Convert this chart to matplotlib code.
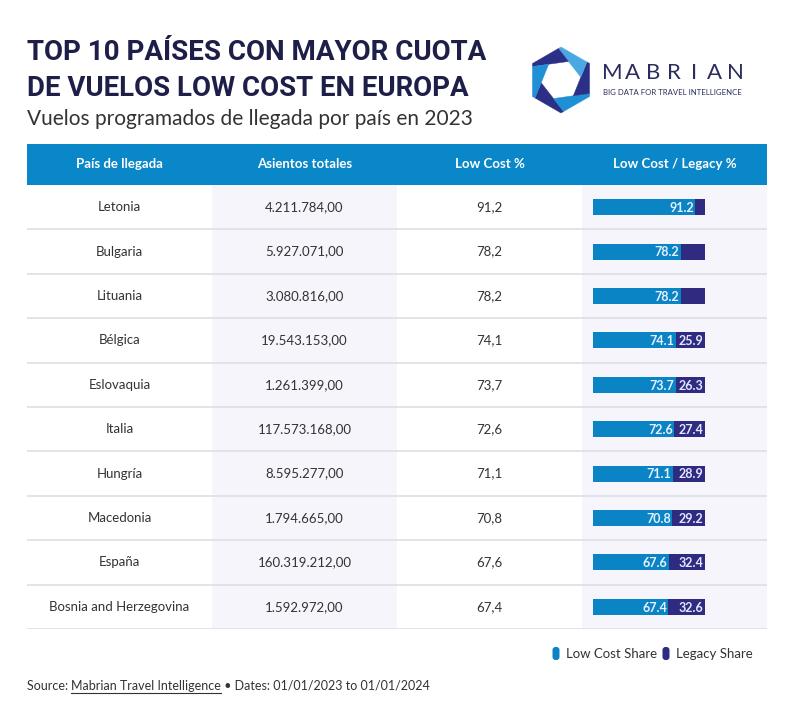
import matplotlib
matplotlib.use("Agg")
import matplotlib.pyplot as plt
from matplotlib.patches import Polygon, Rectangle, FancyBboxPatch
import numpy as np

# ---------------- data ----------------
countries = ["Letonia", "Bulgaria", "Lituania", "Bélgica", "Eslovaquia", "Italia",
             "Hungría", "Macedonia", "España", "Bosnia and Herzegovina"]
seats = [4211784.00, 5927071.00, 3080816.00, 19543153.00, 1261399.00, 117573168.00,
         8595277.00, 1794665.00, 160319212.00, 1592972.00]
low_cost = [91.2, 78.2, 78.2, 74.1, 73.7, 72.6, 71.1, 70.8, 67.6, 67.4]
legacy = [8.8, 21.8, 21.8, 25.9, 26.3, 27.4, 28.9, 29.2, 32.4, 32.6]
headers = ["País de llegada", "Asientos totales", "Low Cost %", "Low Cost / Legacy %"]
legend_labels = ["Low Cost Share", "Legacy Share"]

TITLE = ["TOP 10 PAÍSES CON MAYOR CUOTA", "DE VUELOS LOW COST EN EUROPA"]
SUBTITLE = "Vuelos programados de llegada por país en 2023"

# ---------------- style ----------------
W, H = 794, 720
HEADER_BLUE = "#0a87c8"
LC_BLUE = "#0b84c6"
LEG_NAVY = "#2e2b80"
TITLE_NAVY = "#1d1f48"
TEXT = "#333333"
SHADE = "#f5f5fb"
LINE = "#dedee6"
BODY_FONT = ["Lato", "DejaVu Sans"]
TITLE_FONT = ["Roboto", "DejaVu Sans"]


def fmt_es(v):
    s = f"{v:,.2f}"
    return s.replace(",", "X").replace(".", ",").replace("X", ".")


def es_dec(v):
    return f"{v:.1f}".replace(".", ",")


fig = plt.figure(figsize=(W / 100, H / 100), dpi=100)
fig.patch.set_facecolor("white")

# overlay axes in pixel coordinates
ov = fig.add_axes([0, 0, 1, 1])
ov.set_xlim(0, W)
ov.set_ylim(H, 0)
ov.axis("off")

renderer = fig.canvas.get_renderer()


def fit_text(x, y, s, width_px, **kw):
    size = kw.pop("fontsize", 20)
    t = ov.text(x, y, s, fontsize=size, **kw)
    bb = t.get_window_extent(renderer=renderer)
    t.set_fontsize(size * width_px / bb.width)
    return t


# Title
fit_text(27, 60, TITLE[0], 460, fontsize=24, fontweight="bold", color=TITLE_NAVY,
         family=TITLE_FONT, va="baseline", ha="left")
fit_text(27, 96, TITLE[1], 443, fontsize=24, fontweight="bold", color=TITLE_NAVY,
         family=TITLE_FONT, va="baseline", ha="left")
fit_text(27, 125, SUBTITLE, 448, fontsize=15, color=TEXT,
         family=BODY_FONT, va="baseline", ha="left")

# Logo: pinwheel hexagon
cx, cy, R = 561, 80, 33
ang = np.deg2rad(90 + 60 * np.arange(6))
outer = np.c_[cx + R * np.cos(ang), cy - R * np.sin(ang)]
r_in = 20
ang_in = ang + np.deg2rad(30 + 8)
inner = np.c_[cx + r_in * np.cos(ang_in), cy - r_in * np.sin(ang_in)]


def ray_hit(p, d):
    best = None
    for k in range(6):
        a, b = outer[k], outer[(k + 1) % 6]
        e = b - a
        M = np.array([[d[0], -e[0]], [d[1], -e[1]]])
        if abs(np.linalg.det(M)) < 1e-9:
            continue
        t, s = np.linalg.solve(M, a - p)
        if t > 1e-6 and -1e-9 <= s <= 1 + 1e-9:
            if best is None or t < best[0]:
                best = (t, k, p + t * d)
    return best


hits = []
for k in range(6):
    p = inner[(k + 1) % 6]
    d = inner[(k + 1) % 6] - inner[k]
    t, edge, pt = ray_hit(p, d)
    hits.append((edge, pt))

logo_cols = ["#2b2f86", "#1f8fd6", "#2b2f86", "#4aa9e3", "#2b2f86", "#1f8fd6"]
for k in range(6):
    e0, p0 = hits[k]
    e1, p1 = hits[(k + 1) % 6]
    verts = [inner[(k + 1) % 6], p0]
    e = e0
    while e != e1:
        e = (e + 1) % 6
        verts.append(outer[e])
    verts.append(p1)
    ov.add_patch(Polygon(verts, closed=True, facecolor=logo_cols[k], edgecolor=logo_cols[k], lw=0.3))

letters = "MABRIAN"
lx0, lx1 = 612, 735
for k, ch in enumerate(letters):
    ov.text(lx0 + (lx1 - lx0) * k / (len(letters) - 1), 73, ch, fontsize=16,
            family=BODY_FONT, fontweight="normal", color="#2a2d5e", ha="center", va="center")
fit_text(603, 95, "BIG DATA FOR TRAVEL INTELLIGENCE", 139, fontsize=5.5,
         family=BODY_FONT, color="#2a2d5e", ha="left", va="baseline")

# Header band
TX0, TX1 = 27, 767
HY0, HY1 = 144, 185
ov.add_patch(Rectangle((TX0, HY0), TX1 - TX0, HY1 - HY0, facecolor=HEADER_BLUE, edgecolor="none"))
col_edges = np.linspace(TX0, TX1, 5)
for k, h in enumerate(headers):
    ov.text((col_edges[k] + col_edges[k + 1]) / 2, (HY0 + HY1) / 2, h, color="white",
            fontsize=9.5, fontweight="bold", family=BODY_FONT, ha="center", va="center")

# Table axes (rows)
RY0, RY1 = 185, 629
nrows = len(countries)
tab = fig.add_axes([TX0 / W, 1 - RY1 / H, (TX1 - TX0) / W, (RY1 - RY0) / H])
tab.set_xlim(0, 4)
tab.set_ylim(nrows, 0)
tab.axis("off")
for c in (1, 3):
    tab.axvspan(c, c + 1, facecolor=SHADE, edgecolor="none", zorder=0)
for i in range(1, nrows + 1):
    tab.axhline(i, color=LINE, lw=1.2, zorder=1)

for i in range(nrows):
    yc = i + 0.5
    tab.text(0.5, yc, countries[i], ha="center", va="center", fontsize=9.5, color=TEXT, family=BODY_FONT)
    tab.text(1.5, yc, fmt_es(seats[i]), ha="center", va="center", fontsize=9.5, color=TEXT, family=BODY_FONT)
    tab.text(2.5, yc, es_dec(low_cost[i]), ha="center", va="center", fontsize=9.5, color=TEXT, family=BODY_FONT)

# Bars axes
BX0, BX1 = 593, 705
bar = fig.add_axes([BX0 / W, 1 - RY1 / H, (BX1 - BX0) / W, (RY1 - RY0) / H])
bar.set_xlim(0, 100)
bar.set_ylim(nrows, 0)
bar.axis("off")
bar.patch.set_alpha(0)
ys = np.arange(nrows) + 0.5
bar_h = 16 / 44.4
bar.barh(ys, low_cost, height=bar_h, color=LC_BLUE, edgecolor="none")
bar.barh(ys, legacy, left=low_cost, height=bar_h, color=LEG_NAVY, edgecolor="none")
for i in range(nrows):
    bar.text(low_cost[i] - 1.2, ys[i] + 0.02, f"{low_cost[i]:.1f}", ha="right", va="center",
             color="#e6f1ff", fontsize=9, fontweight="bold", family=BODY_FONT)
    if legacy[i] >= 25:
        bar.text(100 - 1.2, ys[i] + 0.02, f"{legacy[i]:.1f}", ha="right", va="center",
                 color="#e6e6ff", fontsize=9, fontweight="bold", family=BODY_FONT)

# Legend
for (mx, col, lab) in [(556, LC_BLUE, legend_labels[0]), (666, LEG_NAVY, legend_labels[1])]:
    ov.add_patch(FancyBboxPatch((mx - 3.5, 647), 7, 13, boxstyle="round,pad=0,rounding_size=3",
                                facecolor=col, edgecolor="none"))
    ov.text(mx + 10, 653.5, lab, ha="left", va="center", fontsize=9.5, color=TEXT, family=BODY_FONT)

# Footer
fy = 686
parts = ["Source: ", "Mabrian Travel Intelligence", " • Dates: 01/01/2023 to 01/01/2024"]
x = 27
inv = ov.transData.inverted()
for k, p in enumerate(parts):
    t = ov.text(x, fy, p, ha="left", va="center", fontsize=9, color=TEXT, family=BODY_FONT)
    bb = t.get_window_extent(renderer=renderer)
    (x0d, _), (x1d, _) = inv.transform([[bb.x0, bb.y0], [bb.x1, bb.y1]])
    if k == 1:
        ov.plot([x0d, x1d], [fy + 7, fy + 7], color=TEXT, lw=0.8)
    x = x1d

fig.savefig("out.png", dpi=100, facecolor="white")
